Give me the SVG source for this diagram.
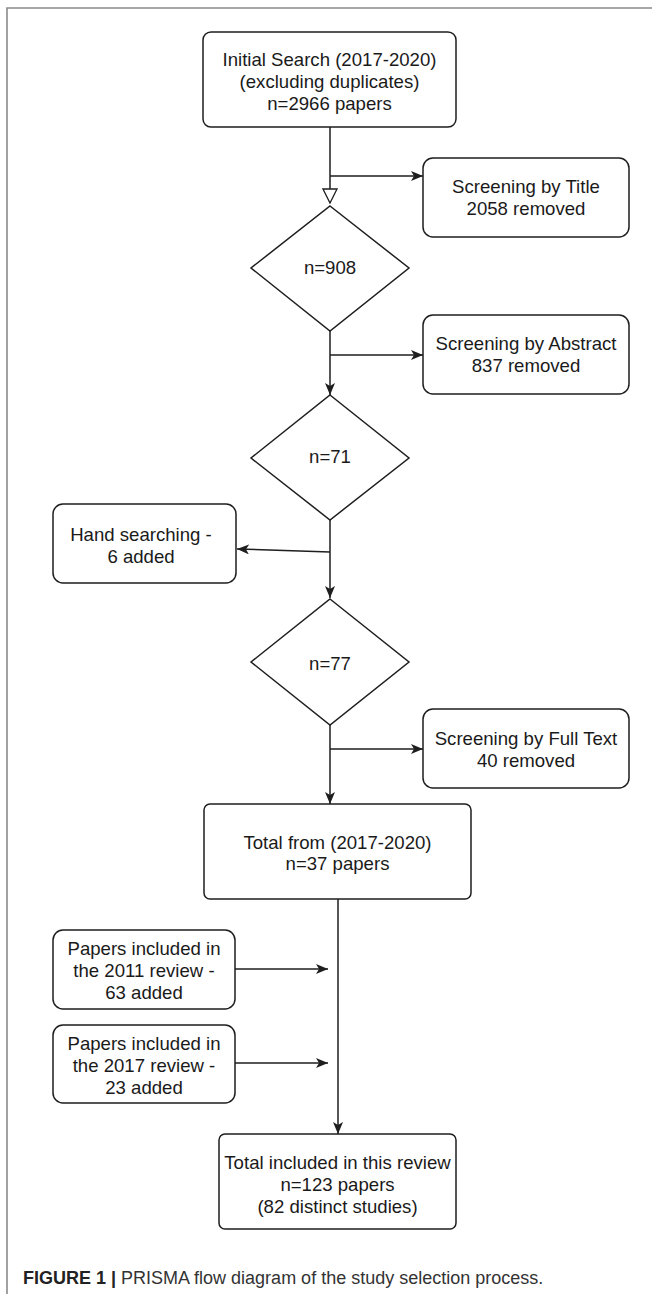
<svg xmlns="http://www.w3.org/2000/svg" width="652" height="1294" viewBox="0 0 652 1294">
<style>
.node{fill:#fff;stroke:#1e1e1e;stroke-width:1.5}
.t{font-family:"Liberation Sans",Arial,sans-serif;font-size:18.6px;fill:#1a1a1a;text-anchor:middle}
.cap{font-family:"Liberation Sans",Arial,sans-serif;font-size:18px;fill:#333}
.c{fill:none;stroke:#1e1e1e;stroke-width:1.5}
.frame{fill:none;stroke:#8a8a8a;stroke-width:1.6}
</style>
<defs>
<marker id="arr" markerUnits="userSpaceOnUse" viewBox="0 0 12 10" markerWidth="12" markerHeight="10" refX="12" refY="5" orient="auto">
<path d="M0,0 L12,5 L0,10 L3,5 z" fill="#1e1e1e"/>
</marker>
<marker id="open" markerUnits="userSpaceOnUse" viewBox="-1 -1 16 16" markerWidth="16" markerHeight="16" refX="14" refY="7" orient="auto">
<path d="M0,0 L14,7 L0,14 z" fill="#fff" stroke="#1e1e1e" stroke-width="1.3"/>
</marker>
</defs>
<rect width="652" height="1294" fill="#fff"/>
<path class="frame" d="M7,1294 V8 H652"/>

<g id="connectors">
<path class="c" d="M330,127 V203" marker-end="url(#open)"/>
<path class="c" d="M330,176 H423" marker-end="url(#arr)"/>
<path class="c" d="M330,331 V395" marker-end="url(#arr)"/>
<path class="c" d="M330,355 H423" marker-end="url(#arr)"/>
<path class="c" d="M330,520 V598" marker-end="url(#arr)"/>
<path class="c" d="M330,552 L237,549" marker-end="url(#arr)"/>
<path class="c" d="M330,725 V804" marker-end="url(#arr)"/>
<path class="c" d="M330,749 H423" marker-end="url(#arr)"/>
<path class="c" d="M338,899 V1134" marker-end="url(#arr)"/>
<path class="c" d="M235,969 H328" marker-end="url(#arr)"/>
<path class="c" d="M235,1063 H328" marker-end="url(#arr)"/>
</g>

<g id="initial-search">
<rect class="node" x="203" y="32" width="253" height="95" rx="8"/>
<text class="t" x="329.5" y="66">Initial Search (2017-2020)</text>
<text class="t" x="329.5" y="88">(excluding duplicates)</text>
<text class="t" x="329.5" y="110">n=2966 papers</text>
</g>

<g id="screen-title">
<rect class="node" x="423" y="158" width="206" height="79" rx="10"/>
<text class="t" x="526" y="193">Screening by Title</text>
<text class="t" x="526" y="215">2058 removed</text>
</g>

<g id="d908">
<polygon class="node" points="330,206 409,268 330,331 251,268"/>
<text class="t" x="330" y="274">n=908</text>
</g>

<g id="screen-abstract">
<rect class="node" x="423" y="315" width="206" height="79" rx="10"/>
<text class="t" x="526" y="350">Screening by Abstract</text>
<text class="t" x="526" y="372">837 removed</text>
</g>

<g id="d71">
<polygon class="node" points="330,395 409,458 330,520 251,458"/>
<text class="t" x="330" y="463">n=71</text>
</g>

<g id="hand-search">
<rect class="node" x="53" y="504" width="183" height="79" rx="10"/>
<text class="t" x="141" y="541">Hand searching -</text>
<text class="t" x="141" y="563">6 added</text>
</g>

<g id="d77">
<polygon class="node" points="330,599 409,662 330,725 251,662"/>
<text class="t" x="330" y="670">n=77</text>
</g>

<g id="screen-full">
<rect class="node" x="423" y="709" width="206" height="79" rx="10"/>
<text class="t" x="526" y="745">Screening by Full Text</text>
<text class="t" x="526" y="767">40 removed</text>
</g>

<g id="total-2017-2020">
<rect class="node" x="204" y="804" width="267" height="95" rx="6"/>
<text class="t" x="337.5" y="849">Total from (2017-2020)</text>
<text class="t" x="337.5" y="870">n=37 papers</text>
</g>

<g id="review-2011">
<rect class="node" x="53" y="930" width="182" height="79" rx="10"/>
<text class="t" x="144" y="955">Papers included in</text>
<text class="t" x="144" y="977">the 2011 review -</text>
<text class="t" x="144" y="999">63 added</text>
</g>

<g id="review-2017">
<rect class="node" x="53" y="1025" width="182" height="78" rx="10"/>
<text class="t" x="144" y="1050">Papers included in</text>
<text class="t" x="144" y="1072">the 2017 review -</text>
<text class="t" x="144" y="1094">23 added</text>
</g>

<g id="final-total">
<rect class="node" x="219" y="1134" width="237" height="95" rx="6"/>
<text class="t" x="337.5" y="1169">Total included in this review</text>
<text class="t" x="337.5" y="1191">n=123 papers</text>
<text class="t" x="337.5" y="1213">(82 distinct studies)</text>
</g>

<text class="cap" x="23" y="1284"><tspan font-weight="bold" fill="#222">FIGURE 1 | </tspan>PRISMA flow diagram of the study selection process.</text>
</svg>
